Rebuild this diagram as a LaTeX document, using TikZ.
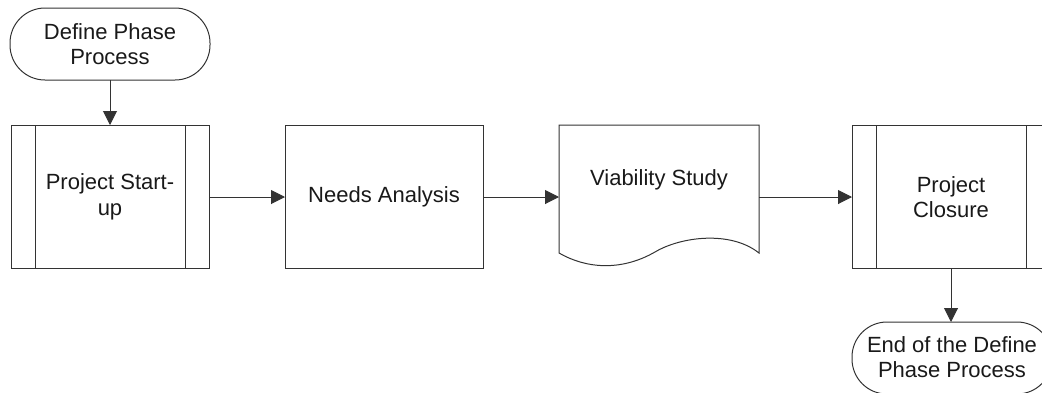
\documentclass[tikz,border=0pt]{standalone}
\usepackage{fontspec}
\setmainfont{Liberation Sans}
\usetikzlibrary{arrows.meta}
\begin{document}
\begin{tikzpicture}[x=1pt,y=-1pt,
  line/.style={draw=black!80,line width=1pt},
  lbl/.style={font=\fontsize{22}{25.5}\selectfont,align=center,text=black!90},
  flow/.style={line,-{Triangle[length=14pt,width=14pt]}},
  term/.style={line,rounded corners=35pt}]
\useasboundingbox (0,0) rectangle (1042,392);
\begin{scope}
\clip (0,0) rectangle (1042,392);
% start terminator
\draw[term] (10,8) rectangle (210,80);
\node[lbl] (start) at (110,44) {Define Phase\\Process};
\coordinate (startB) at (110,80);
% predefined process: Project Start-up
\draw[line] (11,125) rectangle (209,268);
\draw[line] (35,125) -- (35,268) (185,125) -- (185,268);
\node[lbl] (startup) at (110,197) {Project Start-\\up};
\coordinate (startupT) at (110,125);
\coordinate (startupR) at (209,197);
% process: Needs Analysis
\draw[line] (285,125) rectangle (483,268);
\node[lbl] (needs) at (384,197) {Needs Analysis};
\coordinate (needsL) at (285,197);
\coordinate (needsR) at (483,197);
% document: Viability Study
\draw[line] (559,253) -- (559,125) -- (759,125) -- (759,253)
  .. controls (730,230) and (680,237) .. (655,252)
  .. controls (620,272) and (585,268) .. cycle;
\node[lbl] (viab) at (659,180) {Viability Study};
\coordinate (viabL) at (559,197);
\coordinate (viabR) at (759,197);
% predefined process: Project Closure
\draw[line] (852,125) rectangle (1050,268);
\draw[line] (876,125) -- (876,268) (1026,125) -- (1026,268);
\node[lbl] (closure) at (951,197) {Project\\Closure};
\coordinate (closureL) at (852,197);
\coordinate (closureB) at (951,268);
% end terminator
\draw[term] (852,322) rectangle (1052,394);
\node[lbl] (end) at (952,357) {End of the Define\\Phase Process};
\coordinate (endT) at (951,322);
% connectors
\draw[flow] (startB) -- (startupT);
\draw[flow] (startupR) -- (needsL);
\draw[flow] (needsR) -- (viabL);
\draw[flow] (viabR) -- (closureL);
\draw[flow] (closureB) -- (endT);
\end{scope}
\end{tikzpicture}
\end{document}
